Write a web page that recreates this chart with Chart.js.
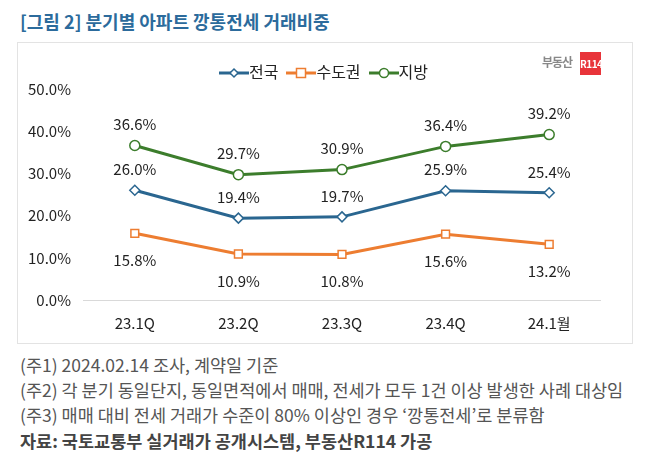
<!DOCTYPE html>
<html>
<head>
<meta charset="utf-8">
<script src="https://cdn.jsdelivr.net/npm/chart.js@4"></script>
<style>
  body { margin: 0; background: #fff; font-family: "Noto Sans CJK KR", "Noto Sans", sans-serif; }
  #page { position: relative; width: 647px; height: 466px; overflow: hidden; }
  #title { position: absolute; left: 20px; top: 8px; font-size: 18px; font-weight: bold; color: #2c6b9c; white-space: nowrap; }
  #box { position: absolute; left: 17px; top: 42px; width: 614px; height: 300px; border: 1px solid #e3e3e3; }
  #box canvas { position: absolute; left: 0; top: 0; }
  #legend { position: absolute; left: 0; right: 0; top: 56px; text-align: center; font-size: 16px; color: #222; }
  .item { display: inline-block; margin: 0 4px; vertical-align: middle; }
  .item svg { vertical-align: middle; }
  #logo { position: absolute; left: 542px; top: 52px; width: 60px; height: 23px; white-space: nowrap; }
  #logo .txt { position: absolute; left: 0; top: 2px; font-size: 12px; line-height: 16px; color: #888; font-weight: bold; letter-spacing: -1px; }
  #logo .r { position: absolute; left: 38px; top: 0; width: 21px; height: 23px; background: #e8343a; color: #fff; font-size: 10px; font-weight: bold; text-align: center; line-height: 23px; letter-spacing: -0.5px; }
  .note { position: absolute; left: 20px; font-size: 17.5px; line-height: 24px; color: #555; white-space: nowrap; }
  .src { font-weight: bold; color: #444; }
</style>
</head>
<body>
<div id="page">
  <div id="title">[그림 2] 분기별 아파트 깡통전세 거래비중</div>
  <div id="box"><canvas id="chart" width="614" height="300"></canvas></div>
  <div id="legend"></div>
  <div id="logo"><span class="txt">부동산</span><span class="r">R114</span></div>
  <div class="note" style="top:353px">(주1) 2024.02.14 조사, 계약일 기준</div>
  <div class="note" style="top:378px">(주2) 각 분기 동일단지, 동일면적에서 매매, 전세가 모두 1건 이상 발생한 사례 대상임</div>
  <div class="note" style="top:403px">(주3) 매매 대비 전세 거래가 수준이 80% 이상인 경우 ‘깡통전세’로 분류함</div>
  <div class="note src" style="top:429px">자료: 국토교통부 실거래가 공개시스템, 부동산R114 가공</div>
</div>
<script>
const categories = ["23.1Q", "23.2Q", "23.3Q", "23.4Q", "24.1월"];
const nationwide = [26.0, 19.4, 19.7, 25.9, 25.4];
const capitalArea = [15.8, 10.9, 10.8, 15.6, 13.2];
const provinces = [36.6, 29.7, 30.9, 36.4, 39.2];
const seriesNames = ["전국", "수도권", "지방"];

const FONT = '"Noto Sans CJK KR", "Noto Sans", sans-serif';
const colors = ["#2a6690", "#ed7d31", "#3c7d2c"];
const styles = ["rectRot", "rect", "circle"];
const labelOffsets = [-21, 27, -21];

// legend in html
const legend = document.getElementById("legend");
seriesNames.forEach((name, i) => {
  let mark = "";
  if (styles[i] === "rectRot") mark = '<polygon points="15,5 19,9 15,13 11,9" fill="#fff" stroke="' + colors[i] + '" stroke-width="1.5"/>';
  if (styles[i] === "rect") mark = '<rect x="10.5" y="4.5" width="9" height="9" fill="#fff" stroke="' + colors[i] + '" stroke-width="1.5"/>';
  if (styles[i] === "circle") mark = '<circle cx="15" cy="9" r="4.5" fill="#fff" stroke="' + colors[i] + '" stroke-width="1.5"/>';
  legend.innerHTML += '<span class="item"><svg width="30" height="18"><line x1="0" y1="9" x2="30" y2="9" stroke="' + colors[i] + '" stroke-width="3"/>' + mark + '</svg>' + name + '</span>';
});

const valueLabels = {
  id: "valueLabels",
  afterDatasetsDraw(chart) {
    const ctx = chart.ctx;
    ctx.save();
    ctx.font = "15px " + FONT;
    ctx.fillStyle = "#222";
    ctx.textAlign = "center";
    ctx.textBaseline = "middle";
    chart.data.datasets.forEach((ds, i) => {
      chart.getDatasetMeta(i).data.forEach((pt, j) => {
        ctx.fillText(ds.data[j].toFixed(1) + "%", pt.x, pt.y + labelOffsets[i]);
      });
    });
    ctx.restore();
  }
};

const seriesData = [nationwide, capitalArea, provinces];
const data = {
  labels: categories,
  datasets: seriesNames.map((name, i) => ({
    label: name,
    data: seriesData[i],
    borderColor: colors[i],
    backgroundColor: "#fff",
    borderWidth: 3,
    pointStyle: styles[i],
    pointRadius: styles[i] === "rect" ? 5.5 : 5,
    pointBorderWidth: 1.5,
    pointBackgroundColor: "#fff",
    pointBorderColor: colors[i],
    tension: 0,
  })),
};

new Chart(document.getElementById("chart"), {
  type: "line",
  data: data,
  options: {
    responsive: false,
    animation: false,
    layout: { padding: { top: 46, right: 31, left: 0, bottom: 0 } },
    plugins: { legend: { display: false }, tooltip: { enabled: false } },
    scales: {
      x: {
        offset: true,
        grid: { display: false },
        border: { display: false },
        ticks: { color: "#222", font: { size: 15, family: FONT }, padding: 6 },
        afterFit: (s) => { s.height = 43; },
      },
      y: {
        min: 0,
        max: 50,
        ticks: {
          stepSize: 10,
          color: "#222",
          font: { size: 15, family: FONT },
          padding: 12,
          callback: (v) => v.toFixed(1) + "%",
        },
        grid: { color: (c) => (c.tick.value === 0 ? "#d9d9d9" : "transparent"), drawTicks: false },
        border: { display: false },
        afterFit: (s) => { s.width = 65; },
      },
    },
  },
  plugins: [valueLabels],
});
</script>
</body>
</html>
